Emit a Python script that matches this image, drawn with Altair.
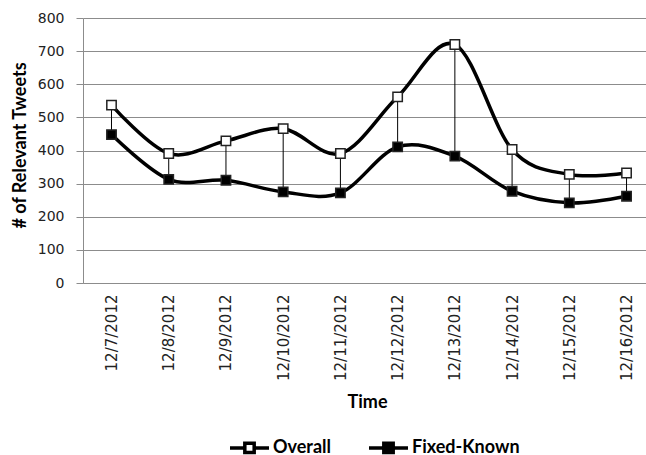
import altair as alt
import pandas as pd

# Daily counts of relevant tweets
dates = ["12/7/2012", "12/8/2012", "12/9/2012", "12/10/2012", "12/11/2012",
         "12/12/2012", "12/13/2012", "12/14/2012", "12/15/2012", "12/16/2012"]
overall = [537, 391, 429, 466, 391, 562, 720, 403, 328, 332]
fixed_known = [448, 313, 310, 275, 272, 411, 383, 277, 242, 262]
series_names = ["Overall", "Fixed-Known"]
y_ticks = [0, 100, 200, 300, 400, 500, 600, 700, 800]

idx = list(range(len(dates)))
long_df = pd.DataFrame({
    "idx": idx * 2,
    "date": dates * 2,
    "series": [series_names[0]] * len(dates) + [series_names[1]] * len(dates),
    "value": overall + fixed_known,
})
wide_df = pd.DataFrame({"idx": idx, "overall": overall, "fixed": fixed_known})

GRID = "#8c8c8c"
label_expr = "[" + ",".join("'" + d + "'" for d in dates) + "][datum.value]"

x_axis = alt.Axis(
    values=idx, labelExpr=label_expr, labelAngle=270, labelAlign="right",
    labelBaseline="middle", labelPadding=11, ticks=False, tickSize=0,
    labelFont="DejaVu Sans", labelFontSize=15, labelColor="#222222",
    grid=False, domainColor=GRID, domainWidth=1,
    title="Time", titleFont="Lato", titleFontWeight="bold", titleFontSize=18,
    titleColor="black", titleX=284, titleY=119, titleAlign="center",
    titleBaseline="middle",
)
y_axis = alt.Axis(
    values=y_ticks, tickSize=7, tickColor=GRID, labelPadding=12,
    labelFont="DejaVu Sans", labelFontSize=14, labelColor="#222222",
    grid=True, gridColor=GRID, gridWidth=1, domainColor=GRID, domainWidth=1,
    title="# of Relevant Tweets", titleFont="Lato", titleFontWeight="bold",
    titleFontSize=18, titleColor="black", titleAngle=270, titleX=-63,
    titleY=127, titleAlign="center", titleBaseline="middle",
)

x_enc = alt.X("idx:Q", scale=alt.Scale(domain=[-0.498, 9.34], nice=False, zero=False), axis=x_axis)
y_scale = alt.Scale(domain=[0, 800], nice=False)

# thin drop lines joining the two series at each day
drops = alt.Chart(wide_df).mark_rule(color="black", strokeWidth=1).encode(
    x=x_enc,
    y=alt.Y("overall:Q", scale=y_scale, axis=y_axis),
    y2="fixed:Q",
)

lines = alt.Chart(long_df).mark_line(
    interpolate="cardinal", color="black", strokeWidth=3.5
).encode(
    x=x_enc,
    y=alt.Y("value:Q", scale=y_scale, axis=y_axis),
    detail="series:N",
)

# legend glyph: a short line with a square in its middle
legend_symbol = "M-1,0H-0.24M0.24,0H1M-0.24,-0.24H0.24V0.24H-0.24Z"

points = alt.Chart(long_df).mark_square(
    size=88, stroke="#222222", strokeWidth=1.5, opacity=1
).encode(
    x=x_enc,
    y=alt.Y("value:Q", scale=y_scale, axis=y_axis),
    fill=alt.Fill(
        "series:N",
        scale=alt.Scale(domain=series_names, range=["white", "black"]),
        legend=alt.Legend(
            title=None, orient="none", legendX=145, legendY=408,
            direction="horizontal", symbolType=legend_symbol, symbolSize=1521,
            symbolStrokeColor="black", symbolStrokeWidth=3.5, symbolOpacity=1,
            labelFont="Lato", labelFontWeight="bold", labelFontSize=18,
            labelColor="black", labelOffset=2, columnPadding=30, padding=0,
        ),
    ),
)

chart = (
    alt.layer(drops, lines, points)
    .properties(
        width=563, height=265,
        autosize=alt.AutoSizeParams(type="none"),
        padding={"left": 83, "top": 18, "right": 0, "bottom": 172},
        background="white",
    )
    .configure_view(strokeWidth=0)
)

chart.save("out.html", embed_options={"renderer": "svg", "actions": False})
